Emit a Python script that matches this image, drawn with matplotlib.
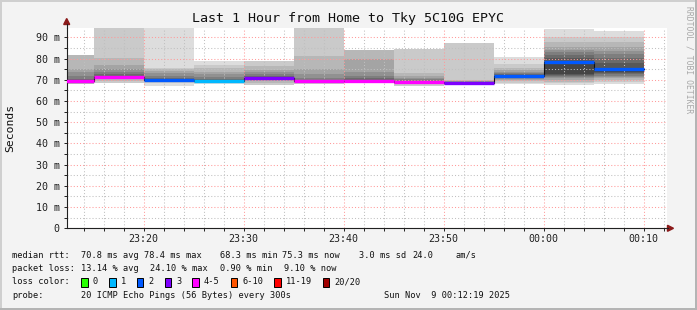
import matplotlib
matplotlib.use("Agg")
import matplotlib.pyplot as plt
import matplotlib.dates as mdates
from matplotlib.patches import Polygon, Rectangle
from matplotlib.lines import Line2D
import pandas as pd

W, H = 697, 310
MONO = "DejaVu Sans Mono"
PINGS = 20

# end of each 300s sample
sample_end = ["2025-11-08 23:15", "2025-11-08 23:20", "2025-11-08 23:25", "2025-11-08 23:30",
              "2025-11-08 23:35", "2025-11-08 23:40", "2025-11-08 23:45", "2025-11-08 23:50",
              "2025-11-08 23:55", "2025-11-09 00:00", "2025-11-09 00:05", "2025-11-09 00:10"]

# received rtts (ms, sorted) per sample, lost pings are the missing ones
rtt_2315 = [67.7, 68.2, 68.6, 69.0, 69.2, 69.3, 69.4, 69.4, 69.5, 69.8, 70.5, 71.9, 73.5, 75.1, 81.6]
rtt_2320 = [68.3, 69.4, 70.2, 70.8, 71.1, 71.3, 71.4, 71.5, 71.5, 71.8, 72.6, 73.8, 75.1, 77.0, 80.1, 96.0]
rtt_2325 = [67.1, 68.6, 69.0, 69.2, 69.3, 69.4, 69.5, 69.6, 69.6, 69.7, 70.0, 70.7, 71.8, 73.0, 74.3, 75.0, 75.4, 95.5]
rtt_2330 = [66.8, 68.0, 68.5, 68.7, 68.9, 69.0, 69.0, 69.1, 69.1, 69.2, 69.4, 69.8, 70.5, 71.5, 72.5, 73.8, 75.4, 77.0, 78.8]
rtt_2335 = [66.8, 67.5, 68.5, 69.2, 69.8, 70.1, 70.3, 70.5, 70.6, 70.7, 71.0, 71.8, 72.6, 73.5, 74.6, 76.5, 79.0]
rtt_2340 = [67.9, 68.4, 68.7, 68.9, 69.0, 69.1, 69.1, 69.2, 69.2, 69.4, 70.0, 70.7, 72.5, 75.1, 81.2, 96.0]
rtt_2345 = [67.6, 68.3, 68.7, 69.0, 69.2, 69.3, 69.4, 69.4, 69.6, 70.0, 70.7, 72.0, 73.5, 79.8, 84.0]
rtt_2350 = [67.3, 67.9, 68.2, 68.4, 68.5, 68.6, 68.7, 68.7, 68.8, 69.1, 69.6, 70.2, 70.7, 71.8, 73.0, 84.5]
rtt_2355 = [67.0, 67.5, 67.8, 67.9, 68.0, 68.1, 68.2, 68.3, 68.3, 68.4, 68.5, 68.7, 68.9, 69.2, 69.5, 70.0, 87.5]
rtt_0000 = [67.9, 68.6, 69.3, 69.9, 70.5, 71.0, 71.3, 71.5, 71.7, 71.8, 72.0, 72.5, 73.2, 73.8, 74.6, 75.5, 77.4, 80.7]
rtt_0005 = [67.5, 68.5, 69.1, 70.0, 70.7, 71.3, 71.8, 72.2, 72.6, 78.5, 80.1, 81.5, 83.0, 84.0, 85.6, 87.9, 90.3, 94.0]
rtt_0010 = [67.9, 69.1, 70.0, 70.7, 71.4, 72.0, 72.6, 73.2, 73.8, 75.3, 78.0, 80.1, 82.0, 83.5, 85.6, 87.9, 90.3, 93.0]
rtts = [rtt_2315, rtt_2320, rtt_2325, rtt_2330, rtt_2335, rtt_2340,
        rtt_2345, rtt_2350, rtt_2355, rtt_0000, rtt_0005, rtt_0010]

loss_labels = ["0", "1", "2", "3", "4-5", "6-10", "11-19", "20/20"]
loss_upper = [0, 1, 2, 3, 5, 10, 19, 20]
loss_colors = ["#26ff00", "#00b8ff", "#0059ff", "#7e00ff", "#ff00ff", "#ff5500", "#ff0000", "#a10000"]

y_ticks = [0, 10, 20, 30, 40, 50, 60, 70, 80, 90]
y_ticklabels = ["0", "10 m", "20 m", "30 m", "40 m", "50 m", "60 m", "70 m", "80 m", "90 m"]

view_start = "2025-11-08 23:12:19"
view_end = "2025-11-09 00:12:19"

stats_rtt = ["70.8 ms avg", "78.4 ms max", "68.3 ms min", "75.3 ms now", "3.0 ms sd", "24.0", "am/s"]
stats_loss = ["13.14 % avg", "24.10 % max", "0.90 % min", "9.10 % now"]
probe_text = "20 ICMP Echo Pings (56 Bytes) every 300s"
stamp_text = "Sun Nov  9 00:12:19 2025"


def fx(px):
    return px / W


def fy(py):
    return 1 - py / H


fig = plt.figure(figsize=(W / 100, H / 100), dpi=100, facecolor="#f3f3f3")
ax = fig.add_axes([fx(66.7), fy(228.3), (666.7 - 66.7) / W, (228.3 - 28) / H])
ax.set_facecolor("white")

ends = pd.to_datetime(sample_end)
starts = ends - pd.Timedelta(minutes=5)

medians = []
for t0, t1, r in zip(starts, ends, rtts):
    loss = PINGS - len(r)
    lower = loss // 2
    slots = [None] * lower + list(r) + [None] * (loss - lower)
    # smoke: outer pairs light, inner pairs dark
    half = PINGS // 2
    for ibot in range(1, half + 1):
        lo, hi = slots[ibot - 1], slots[PINGS - ibot]
        if lo is None or hi is None:
            continue
        g = min(int(190 / half * (half - ibot + 1)) + 50, 240)
        ax.fill_between([t0, t1], lo, hi, color="#%02x%02x%02x" % (g, g, g), lw=0, zorder=1)
    medians.append(r[len(r) // 2])

# black median step line
xs = list(starts) + [ends[-1]]
ys = medians + [medians[-1]]
ax.plot(xs, ys, drawstyle="steps-post", color="#101010", lw=0.8, zorder=2)

for t0, t1, r, m in zip(starts, ends, rtts, medians):
    loss = PINGS - len(r)
    k = next(i for i, u in enumerate(loss_upper) if loss <= u)
    ax.hlines(m, t0, t1, color=loss_colors[k], lw=2.4, zorder=3, capstyle="butt")

ax.set_xlim(pd.Timestamp(view_start), pd.Timestamp(view_end))
ax.set_ylim(0, 94.4)

ax.xaxis.set_major_locator(mdates.MinuteLocator(byminute=range(0, 60, 10)))
ax.xaxis.set_minor_locator(mdates.MinuteLocator(byminute=range(0, 60, 2)))
ax.xaxis.set_major_formatter(mdates.DateFormatter("%H:%M"))
ax.set_yticks(y_ticks)
ax.set_yticklabels(y_ticklabels)
ax.set_yticks(range(5, 95, 10), minor=True)

ax.set_axisbelow("line")
ax.grid(which="major", color="#ff9a9a", linestyle=(0, (1, 2)), lw=0.75)
ax.grid(which="minor", color="#c0c0c0", linestyle=(0, (1, 2)), lw=0.75)

for s in ["top", "right"]:
    ax.spines[s].set_visible(False)
for s in ["left", "bottom"]:
    ax.spines[s].set_color("#202020")
    ax.spines[s].set_linewidth(0.8)

ax.tick_params(which="both", labelsize=7.2, colors="#202020", length=2, width=0.7)
ax.tick_params(axis="x", which="both", pad=2)
ax.tick_params(axis="y", which="both", pad=3)
for lab in ax.get_xticklabels() + ax.get_yticklabels():
    lab.set_fontfamily(MONO)

# axis arrows
dark_red = "#8b1a1a"
fig.add_artist(Line2D([fx(66.7), fx(66.7)], [fy(28), fy(24)], color="#202020", lw=0.8))
fig.add_artist(Polygon([[fx(66.7), fy(18.5)], [fx(63.7), fy(24.5)], [fx(69.7), fy(24.5)]],
                       closed=True, color=dark_red, transform=fig.transFigure))
fig.add_artist(Line2D([fx(666.7), fx(668)], [fy(228.3), fy(228.3)], color="#202020", lw=0.8))
fig.add_artist(Polygon([[fx(673.5), fy(228.3)], [fx(667.5), fy(225.3)], [fx(667.5), fy(231.3)]],
                       closed=True, color=dark_red, transform=fig.transFigure))

fig.text(fx(348), fy(18.5), "Last 1 Hour from Home to Tky 5C10G EPYC",
         fontsize=9.6, family=MONO, ha="center", va="center", color="#101010")
fig.text(fx(10.5), fy(127.5), "Seconds", rotation=90, fontsize=8.2, family=MONO,
         ha="center", va="center", color="#101010")
fig.text(fx(688.5), fy(60), "RRDTOOL / TOBI OETIKER", rotation=270, fontsize=5.8, family=MONO,
         ha="center", va="center", color="#a8a8a8")

# legend block
LS = 6.25
row_y = [255, 268.5, 282, 296]


def ltext(px, py, s, ha="left"):
    fig.text(fx(px), fy(py), s, fontsize=LS, family=MONO, ha=ha, va="center", color="#101010")


ltext(12, row_y[0], "median rtt:")
for px, s in zip([80.7, 143.5, 220, 282, 359.3, 412.3, 455], stats_rtt):
    ltext(px, row_y[0], s)
ltext(12, row_y[1], "packet loss:")
for px, s in zip([80.7, 150, 220, 284], stats_loss):
    ltext(px, row_y[1], s)
ltext(12, row_y[2], "loss color:")
box_x = [81, 109, 136.7, 164.7, 192.3, 230.7, 274, 322.7]
for bx, lab, c in zip(box_x, loss_labels, loss_colors):
    fig.add_artist(Rectangle((fx(bx), fy(row_y[2] + 4.5)), 6.5 / W, 9 / H, facecolor=c,
                             edgecolor="black", lw=0.7, transform=fig.transFigure))
    ltext(bx + 11.5, row_y[2], lab)
ltext(12, row_y[3], "probe:")
ltext(80.7, row_y[3], probe_text)
ltext(510, row_y[3], stamp_text, ha="right")

# frame shading
fig.add_artist(Rectangle((0, fy(2)), 1, 2 / H, color="#cfcfcf", lw=0, transform=fig.transFigure))
fig.add_artist(Rectangle((0, 0), 2 / W, 1, color="#cfcfcf", lw=0, transform=fig.transFigure))
fig.add_artist(Rectangle((0, 0), 1, 2 / H, color="#b4b4b4", lw=0, transform=fig.transFigure))
fig.add_artist(Rectangle((fx(695), 0), 2 / W, 1, color="#b4b4b4", lw=0, transform=fig.transFigure))

fig.savefig("out.png", dpi=100, facecolor=fig.get_facecolor())
